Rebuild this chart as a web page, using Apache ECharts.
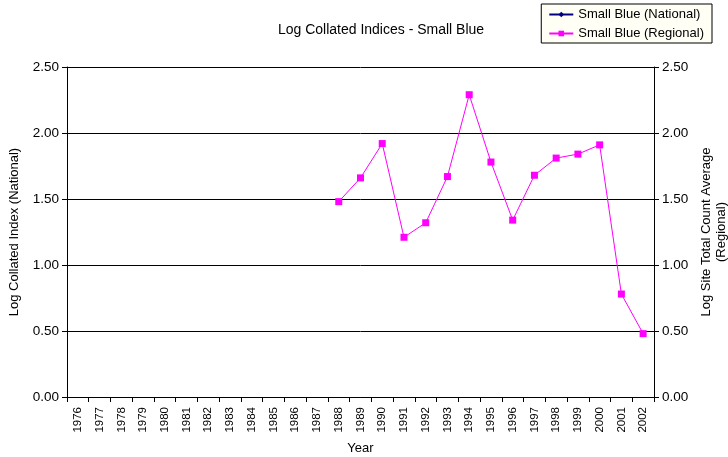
<!DOCTYPE html>
<html><head><meta charset="utf-8">
<script src="https://cdn.jsdelivr.net/npm/echarts@6/dist/echarts.min.js"></script>
<style>html,body{margin:0;padding:0;background:#fff}#c{width:728px;height:457px}</style>
</head><body><div id="c"></div>
<script>
const years = ['1976','1977','1978','1979','1980','1981','1982','1983','1984','1985','1986','1987','1988','1989','1990','1991','1992','1993','1994','1995','1996','1997','1998','1999','2000','2001','2002'];
const national = years.map(() => null);
const regional = [null,null,null,null,null,null,null,null,null,null,null,null,1.48,1.66,1.92,1.21,1.32,1.67,2.29,1.78,1.34,1.68,1.81,1.84,1.91,0.78,0.48];
const yTicks = [0, 0.5, 1, 1.5, 2, 2.5];

const font = 'Liberation Sans, Arial, sans-serif';
const chart = echarts.init(document.getElementById('c'));
const yAxisBase = {
  type: 'value', min: 0, max: 2.5, interval: 0.5,
  nameLocation: 'middle', nameRotate: 90,
  nameTextStyle: {fontFamily: font, fontSize: 13, color: '#000', lineHeight: 15},
  axisLine: {show: true, lineStyle: {color: '#000', width: 1}},
  axisTick: {show: true, inside: false, length: 5, lineStyle: {color: '#000'}},
  axisLabel: {fontFamily: font, fontSize: 13.5, color: '#000', margin: 8, formatter: v => v.toFixed(2)},
};
chart.setOption({
  animation: false,
  backgroundColor: '#fff',
  title: {text: 'Log Collated Indices - Small Blue', left: 376, top: 18, textAlign: 'center',
    textStyle: {fontFamily: font, fontSize: 14, fontWeight: 'normal', color: '#000'}},
  legend: {
    orient: 'vertical', right: 16, top: 4, padding: [4, 8, 3, 7], itemGap: 6,
    itemWidth: 24, itemHeight: 7,
    borderColor: '#000', borderWidth: 1, backgroundColor: '#fffff6',
    textStyle: {fontFamily: font, fontSize: 13, color: '#000'},
    data: ['Small Blue (National)', 'Small Blue (Regional)']
  },
  grid: {left: 67, right: 74, top: 67, bottom: 60, containLabel: false, outerBoundsMode: 'none'},
  xAxis: {
    type: 'category', data: years, boundaryGap: true,
    name: 'Year', nameLocation: 'middle', nameGap: 45,
    nameTextStyle: {fontFamily: font, fontSize: 13, color: '#000'},
    axisLine: {lineStyle: {color: '#000'}},
    axisTick: {show: true, alignWithLabel: false, length: 5, lineStyle: {color: '#000'}},
    axisLabel: {rotate: 90, interval: 0, fontFamily: font, fontSize: 11.5, color: '#000', margin: 10},
    splitLine: {show: false}
  },
  yAxis: [
    Object.assign({}, yAxisBase, {position: 'left', name: 'Log Collated Index (National)', nameGap: 43,
      splitLine: {show: true, lineStyle: {color: '#000', width: 1}}}),
    Object.assign({}, yAxisBase, {position: 'right', name: 'Log Site Total Count Average\n(Regional)', nameGap: 43,
      splitLine: {show: false}})
  ],
  series: [
    {name: 'Small Blue (National)', type: 'line', yAxisIndex: 0, data: national,
      symbol: 'diamond', symbolSize: 7, color: '#000080', lineStyle: {width: 1, color: '#000080'}},
    {name: 'Small Blue (Regional)', type: 'line', yAxisIndex: 1, data: regional, connectNulls: false,
      symbol: 'rect', symbolSize: 7, color: '#ff00ff', lineStyle: {width: 1, color: '#ff00ff'},
      itemStyle: {color: '#ff00ff'}}
  ]
});
</script></body></html>
